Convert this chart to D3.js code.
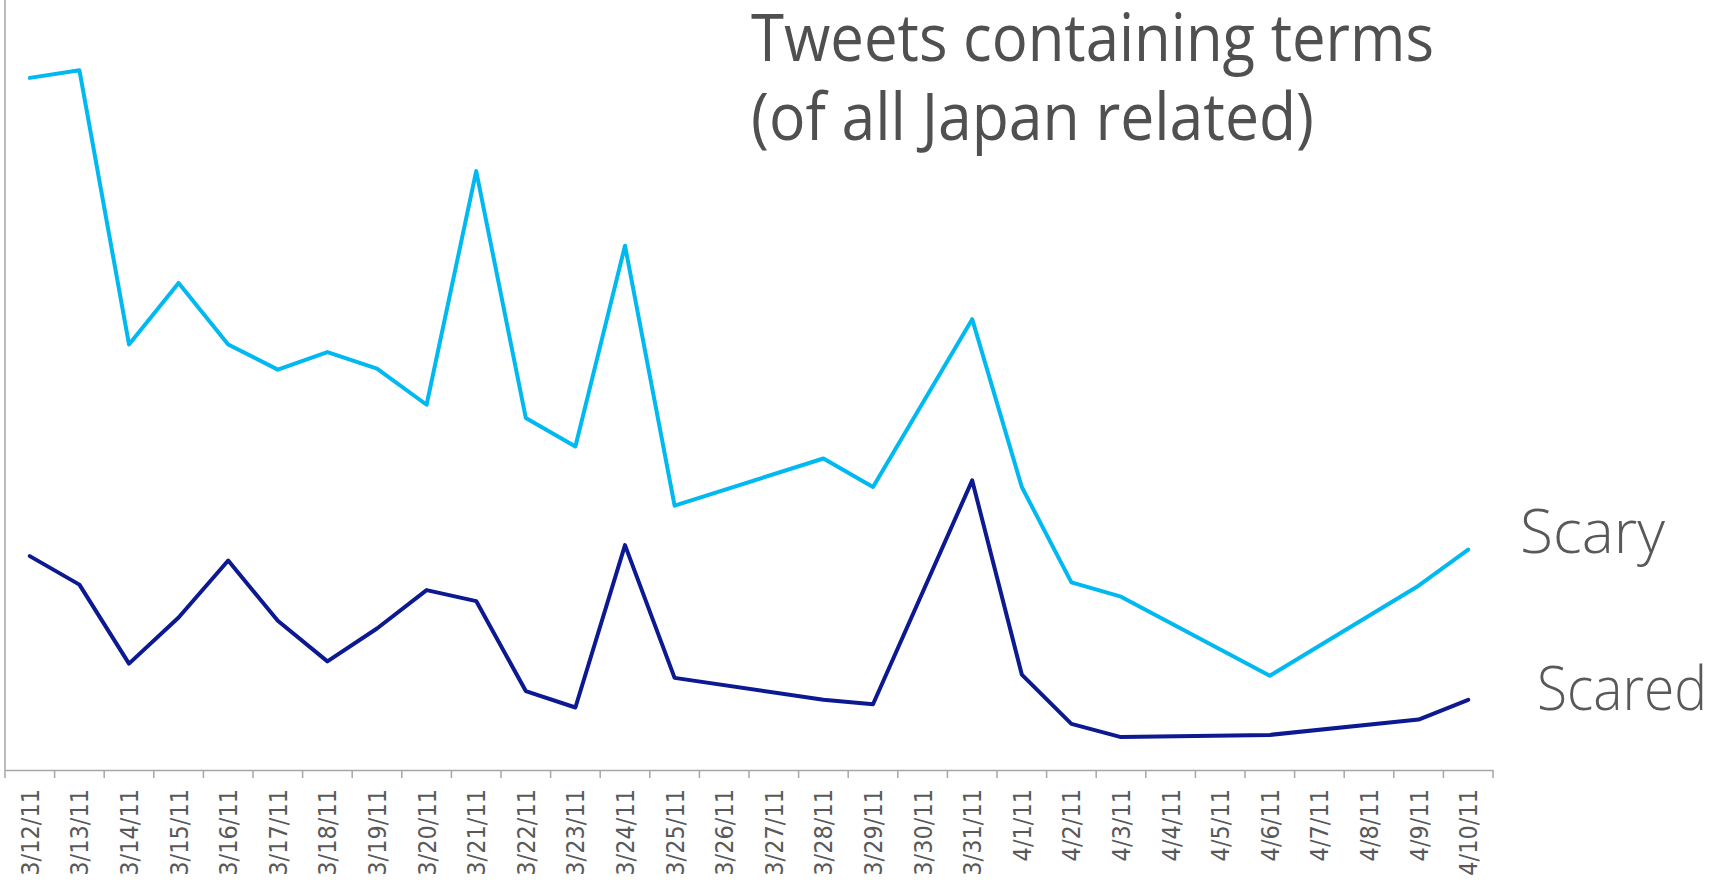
<!DOCTYPE html>
<html>
<head>
<meta charset="utf-8">
<script src="https://cdn.jsdelivr.net/npm/d3@7"></script>
<style>
  body { margin: 0; background: #fff; }
</style>
</head>
<body>
<div id="chart"></div>
<script>
// days on the axis
var days = ["3/12/11","3/13/11","3/14/11","3/15/11","3/16/11","3/17/11","3/18/11","3/19/11","3/20/11","3/21/11",
            "3/22/11","3/23/11","3/24/11","3/25/11","3/26/11","3/27/11","3/28/11","3/29/11","3/30/11","3/31/11",
            "4/1/11","4/2/11","4/3/11","4/4/11","4/5/11","4/6/11","4/7/11","4/8/11","4/9/11","4/10/11"]

// share of tweets (%), null = no data that day
var scary  = [6.31,6.38,3.88,4.44,3.88,3.65,3.81,3.66,3.33,5.46,
              3.21,2.95,4.78,2.41,null,null,2.84,2.58,null,4.11,
              2.58,1.71,1.58,null,null,0.86,null,null,1.68,2.01]
var scared = [1.95,1.69,0.97,1.39,1.91,1.36,0.99,1.29,1.64,1.54,
              0.72,0.57,2.05,0.84,null,null,0.64,0.60,null,2.64,
              0.87,0.42,0.30,null,null,0.32,null,null,0.46,0.64]

var series = [
  {name: "Scary",  values: scary,  color: "#00b9f1"},
  {name: "Scared", values: scared, color: "#0c1991"}
]

var width = 1717, height = 885
var left = 5, right = 1493, bottom = 770

var svg = d3.select("#chart").append("svg")
            .attr("width", width)
            .attr("height", height)

var x = d3.scaleBand()
          .domain(days)
          .range([left, right])
          .padding(0)

var y = d3.scaleLinear()
          .domain([0, 7.02])
          .range([bottom, 0])

// y axis line (no ticks)
svg.append("line")
   .attr("x1", left).attr("x2", left)
   .attr("y1", 0).attr("y2", bottom)
   .attr("stroke", "#a6a6a6")
   .attr("stroke-width", 1.5)

// x axis: labels at band centres
var xAxis = svg.append("g")
               .attr("transform", "translate(0," + bottom + ")")
               .call(d3.axisBottom(x).tickSize(0).tickSizeOuter(0))

xAxis.select(".domain")
     .attr("stroke", "#a6a6a6")
     .attr("stroke-width", 1.5)

xAxis.selectAll(".tick text")
     .attr("transform", "rotate(-90)")
     .attr("text-anchor", "end")
     .attr("x", -19)
     .attr("y", 0)
     .attr("dy", "0.36em")
     .attr("font-family", "DejaVu Sans Condensed")
     .attr("font-size", 25)
     .attr("fill", "#595959")

// tick marks between categories
svg.append("g")
   .selectAll("line")
   .data(days.concat(["end"]))
   .join("line")
   .attr("x1", function(d, i) { return i < days.length ? x(d) : x.range()[1] })
   .attr("x2", function(d, i) { return i < days.length ? x(d) : x.range()[1] })
   .attr("y1", bottom)
   .attr("y2", bottom + 8)
   .attr("stroke", "#a6a6a6")
   .attr("stroke-width", 1.5)

// lines, gaps bridged
var line = d3.line()
             .x(function(d) { return x(d.day) + x.bandwidth() / 2 })
             .y(function(d) { return y(d.v) })

series.forEach(function(s) {
  var pts = days.map(function(d, i) { return {day: d, v: s.values[i]} })
                .filter(function(p) { return p.v !== null })
  svg.append("path")
     .datum(pts)
     .attr("d", line)
     .attr("fill", "none")
     .attr("stroke", s.color)
     .attr("stroke-width", 4)
     .attr("stroke-linejoin", "round")
     .attr("stroke-linecap", "round")
})

// title
svg.append("text")
   .attr("x", 751).attr("y", 61)
   .attr("font-family", "Open Sans")
   .attr("font-size", 65)
   .attr("textLength", 683)
   .attr("lengthAdjust", "spacingAndGlyphs")
   .attr("fill", "#505050")
   .text("Tweets containing terms")

svg.append("text")
   .attr("x", 751).attr("y", 140)
   .attr("font-family", "Open Sans")
   .attr("font-size", 65)
   .attr("textLength", 563)
   .attr("lengthAdjust", "spacingAndGlyphs")
   .attr("fill", "#505050")
   .text("(of all Japan related)")

// series labels
svg.append("text")
   .attr("x", 1520).attr("y", 553)
   .attr("font-family", "Open Sans")
   .attr("font-weight", 300)
   .attr("font-size", 60)
   .attr("textLength", 145)
   .attr("lengthAdjust", "spacingAndGlyphs")
   .attr("fill", "#595959")
   .text("Scary")

svg.append("text")
   .attr("x", 1537).attr("y", 710)
   .attr("font-family", "Open Sans")
   .attr("font-weight", 300)
   .attr("font-size", 60)
   .attr("textLength", 170)
   .attr("lengthAdjust", "spacingAndGlyphs")
   .attr("fill", "#595959")
   .text("Scared")
</script>
</body>
</html>
